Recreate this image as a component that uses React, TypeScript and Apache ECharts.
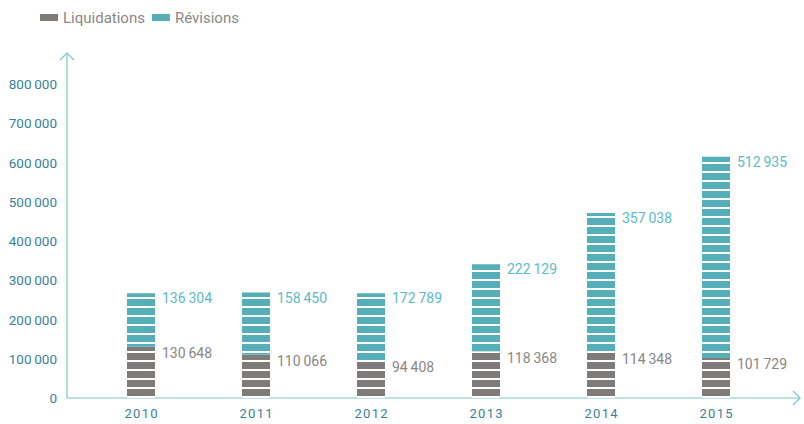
import React, { useEffect, useRef } from "react";
import * as echarts from "echarts";

const years = ["2010", "2011", "2012", "2013", "2014", "2015"];
const liquidations = [130648, 110066, 94408, 118368, 114348, 101729];
const revisions = [136304, 158450, 172789, 222129, 357038, 512935];

const fmt = (v: number) =>
  String(v).replace(/\B(?=(\d{3})+(?!\d))/g, "\u2009");

const GREY = "#807b7b";
const TEAL = "#54afb8";
const AXIS = "#7cc3cb";
const FONT = "Roboto, sans-serif";

export default function App() {
  const ref = useRef<HTMLDivElement>(null);
  useEffect(() => {
    const chart = echarts.init(ref.current!, null, { renderer: "svg" });
    const decal = {
      symbol: "rect",
      symbolSize: 1,
      dashArrayX: [1, 0],
      dashArrayY: [1.2, 6.1],
      color: "#ffffff",
      rotation: 0,
    };
    chart.setOption({
      animation: false,
      textStyle: { fontFamily: FONT },
      legend: {
        left: 35,
        top: 5,
        itemWidth: 18,
        itemHeight: 7,
        itemGap: 7,
        icon: "rect",
        textStyle: { color: "#8a8888", fontSize: 15, fontFamily: FONT },
        data: [
          { name: "Liquidations", itemStyle: { color: GREY, decal: "none" } },
          { name: "Révisions", itemStyle: { color: TEAL, decal: "none" } },
        ],
      },
      grid: { left: 83.5, right: 30.5, top: 84, bottom: 26, containLabel: false },
      xAxis: {
        type: "category",
        data: years,
        axisLine: { show: false },
        axisTick: { show: false },
        axisLabel: {
          color: "#3b7f99",
          fontSize: 13,
          margin: 9,
          fontFamily: FONT,
          formatter: (v: string) => v.split("").join("\u200a"),
        },
      },
      yAxis: {
        type: "value",
        min: 0,
        max: 800000,
        interval: 100000,
        offset: 16.5,
        splitLine: { show: false },
        axisLine: { show: false },
        axisTick: { show: false },
        axisLabel: {
          color: "#3b7f99",
          fontSize: 13.5,
          margin: 10,
          fontFamily: FONT,
          formatter: (v: number) => fmt(v),
        },
      },
      graphic: [
        { type: "line", shape: { x1: 67, y1: 398, x2: 67, y2: 53 }, style: { stroke: AXIS, lineWidth: 1.2 } },
        { type: "polyline", shape: { points: [[60, 60], [67, 53], [74, 60]] }, style: { stroke: AXIS, lineWidth: 1.2, fill: null } },
        { type: "line", shape: { x1: 67, y1: 398, x2: 800, y2: 398 }, style: { stroke: AXIS, lineWidth: 1.2 } },
        { type: "polyline", shape: { points: [[793, 391], [800, 398], [793, 405]] }, style: { stroke: AXIS, lineWidth: 1.2, fill: null } },
      ],
      series: [
        {
          name: "Liquidations",
          type: "bar",
          stack: "s",
          barWidth: 28,
          data: liquidations,
          itemStyle: { color: GREY, decal },
          label: {
            show: true,
            position: [35, -1],
            align: "left",
            verticalAlign: "top",
            color: "#8a8686",
            fontSize: 14,
            fontFamily: FONT,
            formatter: (p: any) => fmt(p.value),
          },
        },
        {
          name: "Révisions",
          type: "bar",
          stack: "s",
          barWidth: 28,
          data: revisions,
          itemStyle: { color: TEAL, decal },
          label: {
            show: true,
            position: [35, -2],
            align: "left",
            verticalAlign: "top",
            color: "#5cbcc6",
            fontSize: 14,
            fontFamily: FONT,
            formatter: (p: any) => fmt(p.value),
          },
        },
      ],
    });
    return () => chart.dispose();
  }, []);
  return (
    <div
      ref={ref}
      style={{ position: "absolute", left: 0, top: 0, width: 804, height: 424 }}
    />
  );
}
